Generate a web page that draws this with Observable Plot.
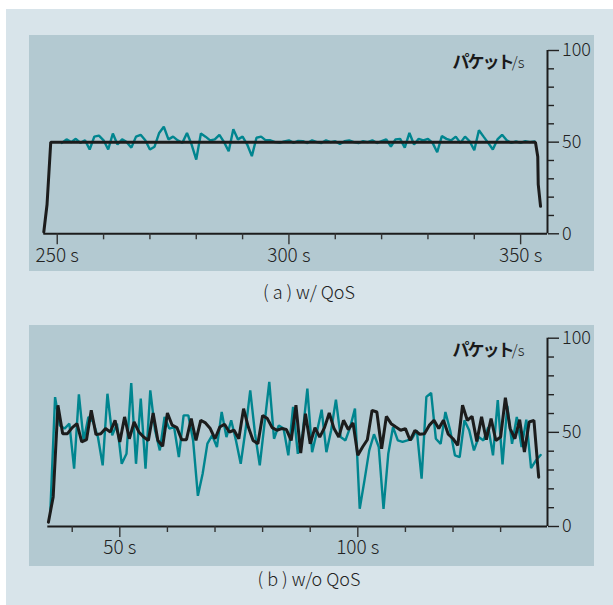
<!DOCTYPE html>
<html><head><meta charset="utf-8">
<script src="https://cdn.jsdelivr.net/npm/d3@7"></script>
<script src="https://cdn.jsdelivr.net/npm/@observablehq/plot@0.6"></script>
<style>
html,body{margin:0;padding:0;background:#fff;}
body{width:613px;height:605px;position:relative;overflow:hidden;font-family:"Noto Sans CJK JP",sans-serif;}
#bg{position:absolute;left:6px;top:9px;right:0;bottom:0;background:#d8e4ea;}
.panel{position:absolute;left:29px;}
.panel svg{display:block;}
#pa{top:35px}
#pb{top:325px}
.cap{position:absolute;left:0;width:618px;text-align:center;font-size:18px;line-height:18px;font-weight:300;color:#222;white-space:pre;}
#ca{top:282px}
#cb{top:569px}
</style></head><body>
<div id="bg"></div>
<div id="pa" class="panel"></div>
<div id="pb" class="panel"></div>
<div class="cap" id="ca"></div>
<div class="cap" id="cb"></div>
<script>
// ---- data ----
const unitLabel = "パケット";
const unitSuffix = "/s";
const captionA = "( a ) w/ QoS";
const captionB = "( b ) w/o QoS";

// panel (a) w/ QoS
const xDomainA = [247.1, 355.8];
const xMajorA = [250, 300, 350];
const xMinorA = [260, 270, 280, 290, 310, 320, 330, 340];
const tealAStart = 251; // one sample per second
const tealA = [
  49.6, 51.5, 50, 51.8, 49.6, 51, 46, 53, 53.6, 51,
  46, 54.7, 48.7, 51.5, 50, 47, 53, 54, 51, 46,
  47.5, 55, 58.4, 51.5, 53, 51, 49.6, 55, 48.7, 40.5,
  54.7, 53, 51, 51.5, 54, 50, 45, 57, 51.5, 53,
  48.7, 42.4, 52.4, 53, 51, 51, 50, 49.6, 50.4, 51,
  49.6, 50.7,
  50.5, 49.5, 51, 50, 49.5, 51, 50, 50.5, 49, 50.5,
  51, 50, 49.5, 50.5, 50, 51, 49.5, 50.5,
  51.5, 47.5, 51.5, 51.8, 47, 55, 48.7, 51.8, 51, 51.8,
  49.6, 44.5, 53.3, 51.8, 51, 53, 49.6, 53, 50.5, 45.6,
  56.5, 53, 49.6, 46, 51.5, 54, 51, 49.6, 50.4, 49.6,
  50.5, 50, 50.4
];
const blackATime = [247.1, 247.8, 248.6, 353.2, 353.7, 353.8, 354.3];
const blackAValue = [1, 16, 50, 50, 42, 27, 15];

// panel (b) w/o QoS
const xDomainB = [34.87, 139.85];
const xMajorB = [50, 100];
const xMinorB = [40, 60, 70, 80, 90, 110, 120, 130];
const blackBStart = 35;
const blackB = [
  2.3, 15.7, 64.4, 49.3, 49.3, 52.5, 54.6, 44.9, 46.1, 61.7,
  48.8, 49.3, 52, 50.2, 56.4, 44.9, 58.2, 46.6, 55.5, 50.2,
  47.5, 45.7, 60.3, 45.7, 42.6, 60.3, 53.8, 52.5, 46.1, 46.1,
  57.3, 45.7, 56.4, 55, 52, 46.6, 52.8, 54.3, 50.2, 51.1,
  46.6, 62.6, 52.8, 45.7, 43.9, 59, 57.3, 52.5, 51.1, 52,
  51.5, 45.7, 64.4, 39, 59.9, 43.9, 52.5, 47.5, 52.5, 60.3,
  52, 47.5, 56.4, 51.5, 55, 37.8, 42.2, 46.1, 61.7, 60.8,
  41.3, 58.5, 54.6, 52.8, 51.1, 52, 45.7, 51.1, 49, 49.3,
  53.7, 56.4, 52, 56.4, 49, 46.6, 43.1, 64.4, 56.4, 58.5,
  45.2, 58.2, 46.1, 57.3, 45.7, 47.5, 68.4, 52, 46.6, 56.7,
  39.5, 55.5, 56.4, 26.2
];
const tealBStart = 35.4;
const tealB = [
  8, 68.7, 53.7, 52, 54.6, 30.7, 70.2, 45.7, 58.2, 55.5,
  47.5, 32.5, 70.5, 48.4, 54.6, 33.3, 38.6, 76.2, 33.3, 67.9,
  30.7, 72.3, 51.1, 40.4, 58.2, 52, 52.8, 36.9, 59, 59,
  45.7, 16.3, 28, 44, 48.4, 42.2, 60.8, 47.5, 56.4, 45.7,
  33.3, 51.1, 72.3, 49.3, 32.5, 54.6, 76.8, 46.6, 53.7, 52,
  37.8, 63.5, 38.6, 49.3, 73.2, 39.5, 50.2, 62, 39.5, 51.1,
  67.4, 47.5, 45.7, 52.8, 62.6, 9.4, 24.5, 40.4, 49, 42.2,
  9.4, 38.6, 52.8, 45.7, 44.9, 45.7, 46.6, 51.1, 25.4, 68.8,
  70.9, 46.6, 43.9, 60.8, 51.1, 37.8, 36.9, 56.4, 51.1, 40.4,
  47.5, 45.7, 52.8, 37.8, 67.1, 33, 64, 43.9, 58.2, 42.2,
  56.7, 31, 35, 38
];

const yDomain = [0, 100];
const yMajor = [0, 50, 100];
const yMinor = [10, 20, 30, 40, 60, 70, 80, 90];

// ---- drawing ----
const TEAL = "#00858f", INK = "#1c1c1c", PANEL = "#b3c9d1";
const FONT = "'Noto Sans CJK JP', 'Noto Sans', sans-serif";

function series(start, values) {
  return values.map((v, i) => ({t: start + i, v}));
}

function panel({width, height, margins, xDomain, xMajor, xMinor, teal, black, labelPad}) {
  const svg = Plot.plot({
    width, height,
    marginLeft: margins[0], marginRight: margins[1], marginTop: margins[2], marginBottom: margins[3],
    x: {domain: xDomain, label: null},
    y: {domain: yDomain, label: null},
    style: {background: PANEL, fontFamily: FONT, fontSize: "18px", color: "#222", overflow: "visible"},
    marks: [
      Plot.line(teal, {x: "t", y: "v", stroke: TEAL, strokeWidth: 2.4, strokeLinejoin: "miter"}),
      Plot.line(black, {x: "t", y: "v", stroke: INK, strokeWidth: 3, strokeLinejoin: "miter"}),
      Plot.ruleY([0], {stroke: INK, strokeWidth: 2}),
      Plot.ruleX([xDomain[1]], {y1: yDomain[0], y2: yDomain[1], stroke: INK, strokeWidth: 2}),
      Plot.axisX({ticks: xMinor, tickSize: 6, tickFormat: () => "", stroke: "#333", strokeWidth: 1.4, label: null}),
      Plot.axisX({ticks: xMajor, tickSize: 11, tickPadding: labelPad, tickFormat: d => `${d} s`, stroke: "#333", strokeWidth: 1.4, fontSize: 19, fontWeight: 300, fill: "#222", label: null}),
      Plot.axisY({anchor: "right", ticks: yMinor, tickSize: 6, tickFormat: () => "", stroke: "#222", strokeWidth: 1.4, label: null}),
      Plot.axisY({anchor: "right", ticks: yMajor, tickSize: 11, tickPadding: 3.5, stroke: "#222", strokeWidth: 1.4, fontSize: 18, fontWeight: 300, fill: "#222", label: null}),
      Plot.text([unitSuffix], {text: d => d, frameAnchor: "top-right", dx: -23, dy: 17.3, textAnchor: "end", lineAnchor: "bottom", fontSize: 15, fontWeight: 300, fill: "#222"}),
      Plot.text([unitLabel], {text: d => d, frameAnchor: "top-right", dx: -35, dy: 17.3, textAnchor: "end", lineAnchor: "bottom", fontSize: 17, fontWeight: "bold", fill: "#1a1a1a"})
    ]
  });
  svg.querySelectorAll("text").forEach(t => {
    if (t.textContent === unitLabel) t.style.letterSpacing = "-2px";
  });
  return svg;
}

document.getElementById("pa").appendChild(panel({
  width: 565, height: 236, margins: [14.3, 47, 15, 37.7],
  xDomain: xDomainA, xMajor: xMajorA, xMinor: xMinorA,
  teal: series(tealAStart, tealA),
  black: blackATime.map((t, i) => ({t, v: blackAValue[i]})),
  labelPad: 4
}));

document.getElementById("pb").appendChild(panel({
  width: 565, height: 241, margins: [18.3, 47, 12.7, 40],
  xDomain: xDomainB, xMajor: xMajorB, xMinor: xMinorB,
  teal: series(tealBStart, tealB),
  black: series(blackBStart, blackB),
  labelPad: 3
}));

document.getElementById("ca").textContent = captionA;
document.getElementById("cb").textContent = captionB;
</script>
</body></html>
